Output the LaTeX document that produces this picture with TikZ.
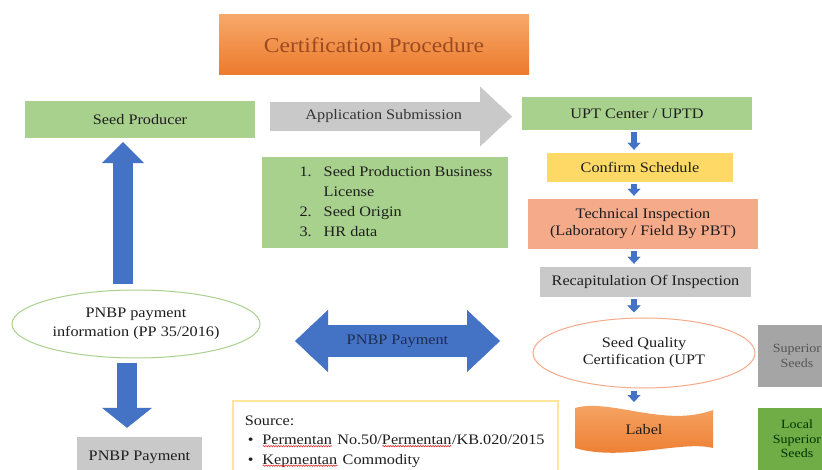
\documentclass[tikz,border=0pt]{standalone}
\usepackage{fontspec}
\setmainfont{Liberation Serif}[FakeStretch=1.12]
\usetikzlibrary{arrows.meta,shapes.geometric,decorations.pathmorphing}

\definecolor{ink}{HTML}{1E1E1E}
\definecolor{leafgreen}{HTML}{A9D18E}
\definecolor{darkgreen}{HTML}{70AD47}
\definecolor{midgray}{HTML}{C9C9C9}
\definecolor{darkgray}{HTML}{A5A5A5}
\definecolor{schedyellow}{HTML}{FFD966}
\definecolor{salmon}{HTML}{F5AA8A}
\definecolor{orangetop}{HTML}{F7A869}
\definecolor{orangebot}{HTML}{EC7A2C}
\definecolor{titleink}{HTML}{9C4A21}
\definecolor{arrowblue}{HTML}{4472C4}
\definecolor{navy}{HTML}{1F2D50}
\definecolor{srcyellow}{HTML}{FFE699}
\definecolor{spellred}{HTML}{E03030}

\newcommand\bodysize{\fontsize{14.5}{17}\selectfont}
\newcommand\titlesize{\fontsize{21}{25}\selectfont}
\newcommand\smallsize{\fontsize{12.5}{14.5}\selectfont}

% red wavy underline for the flagged words
\newlength\markwd
\newcommand\spellmark[1]{\settowidth\markwd{#1}\rlap{#1}%
  \raisebox{-2.5pt}{\tikz\draw[spellred, line width=0.6pt, decorate,
    decoration={snake, amplitude=0.7pt, segment length=2.5pt}] (0pt,0pt) -- (\markwd,0pt);}}

\begin{document}
\begin{tikzpicture}[x=1pt, y=-1pt,
    every node/.style={font=\bodysize, text=ink, inner sep=0pt, align=center},
    boxes/.style n args={2}{rectangle, minimum width=#1, minimum height=#2},
    blockarrow/.style n args={3}{line width=#1, draw=arrowblue,
        -{Triangle[width=#2, length=#3, line width=0.4pt]}},
    smallarrow/.style={line width=6pt, draw=arrowblue,
        -{Triangle[width=13pt, length=7pt, line width=0.4pt]},
        shorten <=2pt, shorten >=3pt}]

\useasboundingbox (0,0) rectangle (822,470);
\clip (0,0) rectangle (822,470);
\fill[white] (0,0) rectangle (822,470);

% heading
\node[boxes={310}{60}, top color=orangetop, bottom color=orangebot,
      font=\titlesize, text=titleink] (title) at (374,45) {Certification Procedure};

% left side
\node[boxes={230}{37}, fill=leafgreen] (producer) at (140,119.5) {Seed Producer};
\node[ellipse, draw=leafgreen, line width=1pt, fill=white,
      minimum width=248, minimum height=68,
      font=\fontsize{14.5}{19}\selectfont] (info) at (136,324)
      {PNBP payment\\information (PP 35/2016)};
\node[boxes={125}{40}, fill=midgray] (payment) at (139.5,457) {PNBP Payment};

\coordinate (upcol) at (123,0);
\coordinate (downcol) at (127,0);
\draw[blockarrow={20pt}{42pt}{21pt}, shorten <=5pt, shorten >=4pt]
    (info.north -| upcol) -- (producer.south -| upcol);
\draw[blockarrow={20pt}{50pt}{20pt}, shorten <=4pt, shorten >=9pt]
    (info.south -| downcol) -- (payment.north -| downcol);

% middle
\coordinate (subL) at (270,116.5);
\coordinate (subR) at (512,116.5);
\draw[line width=29pt, draw=midgray,
      -{Triangle[width=60pt, length=32pt, line width=0.4pt]}]
    (subL) -- node[pos=0.47, text=ink!90] {Application Submission} (subR);

\node[boxes={246}{91}, fill=leafgreen, font=\fontsize{14.5}{20}\selectfont] (docs) at (385,202.5)
    {\begin{tabular}{@{\hspace{22pt}}l@{\hspace{12pt}}l@{}}
     1. & Seed Production Business\\
        & License\\
     2. & Seed Origin\\
     3. & HR data
     \end{tabular}};

\coordinate (payL) at (295,341);
\coordinate (payR) at (500,341);
\draw[line width=32pt, draw=arrowblue,
      {Triangle[width=62pt, length=33pt, line width=0.4pt]}-{Triangle[width=62pt, length=33pt, line width=0.4pt]}]
    (payL) -- node[text=navy] {PNBP Payment} (payR);

\node[rectangle, draw=srcyellow, line width=1.5pt, fill=white, anchor=north west,
      minimum width=325, minimum height=80, inner xsep=12pt,
      text width=301, align=left, font=\fontsize{14.5}{19.5}\selectfont] (source) at (232,400)
    {\begin{tabular}{@{\hspace{3pt}}l@{\hspace{9pt}}l@{}}
     \multicolumn{2}{@{}l}{Source:}\\
     \textbullet & \spellmark{Permentan} No.50/\spellmark{Permentan}/KB.020/2015\\
     \textbullet & \spellmark{Kepmentan} Commodity
     \end{tabular}};

% right column
\node[boxes={230}{33}, fill=leafgreen] (upt) at (637,113.5) {UPT Center / UPTD};
\node[boxes={186}{29}, fill=schedyellow] (confirm) at (640,167.5) {Confirm Schedule};
\node[boxes={230}{50}, fill=salmon] (inspect) at (643,224)
    {Technical Inspection\\(Laboratory / Field By PBT)};
\node[boxes={211}{30}, fill=midgray] (recap) at (645.5,282) {Recapitulation Of Inspection};
\node[ellipse, draw=salmon, line width=1pt, fill=white,
      minimum width=222, minimum height=70] (quality) at (644,353)
    {Seed Quality\\Certification (UPT};

% wavy label banner
\shade[top color=orangetop, bottom color=orangebot]
    (575,408) .. controls (610,398) and (665,428) .. (713,410)
    -- (713,448) .. controls (682,440) and (622,462) .. (575,448) -- cycle;
\node (label) at (644,430) {Label};
\coordinate (labeltop) at (634,405);

\coordinate (col) at (634,0);
\draw[smallarrow] (upt.south -| col) -- (confirm.north -| col);
\draw[smallarrow] (confirm.south -| col) -- (inspect.north -| col);
\draw[smallarrow] (inspect.south -| col) -- (recap.north -| col);
\draw[smallarrow, shorten >=5pt] (recap.south -| col) -- (quality.north -| col);
\draw[smallarrow] (quality.south -| col) -- (labeltop);

% seed classes
\node[boxes={78}{62}, fill=darkgray, font=\smallsize, text=ink!75] (superior) at (797,356)
    {Superior\\Seeds};
\node[boxes={78}{62}, fill=darkgreen, font=\smallsize, text=green!20!black] (local) at (797,439)
    {Local\\Superior\\Seeds};

\end{tikzpicture}
\end{document}
